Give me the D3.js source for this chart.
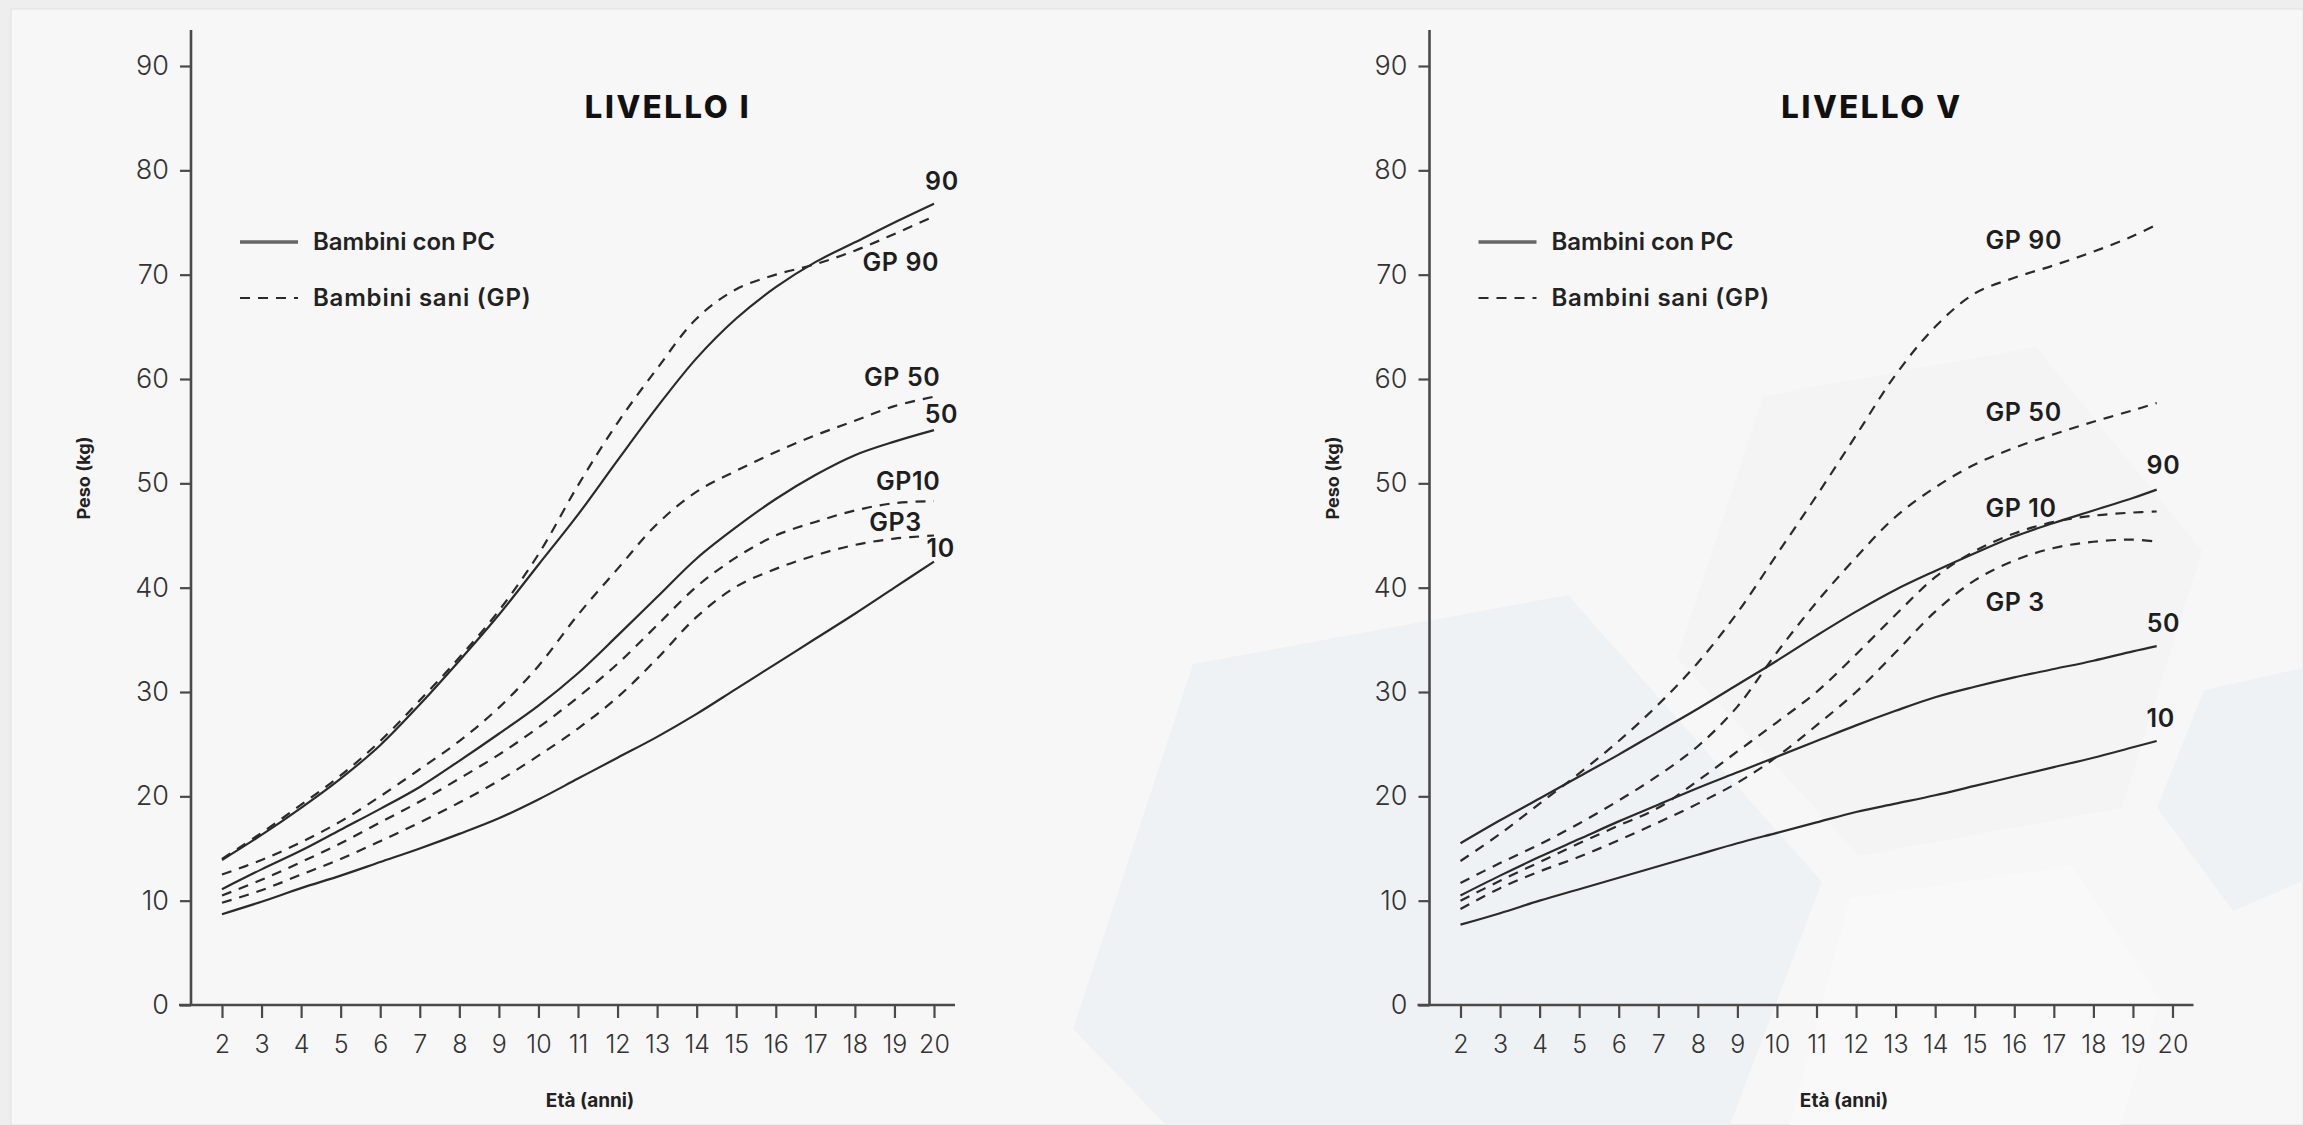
<!DOCTYPE html>
<html>
<head>
<meta charset="utf-8">
<script src="https://cdn.jsdelivr.net/npm/d3@7"></script>
<style>
  body { margin: 0; background: #eeeeee; }
  svg { display: block; font-family: Inter, "Open Sans", sans-serif; }
</style>
</head>
<body>
<svg id="chart" width="2303" height="1125"></svg>
<script>
// ages (years)
const agesI = [2, 3, 4, 5, 6, 7, 8, 9, 10, 11, 12, 13, 14, 15, 16, 17, 18, 19, 20];
const agesV = [2, 3, 4, 5, 6, 7, 8, 9, 10, 11, 12, 13, 14, 15, 16, 17, 18, 19, 19.6];
const xTicks = [2, 3, 4, 5, 6, 7, 8, 9, 10, 11, 12, 13, 14, 15, 16, 17, 18, 19, 20];
const yTicks = [0, 10, 20, 30, 40, 50, 60, 70, 80, 90];

// LIVELLO I, peso (kg)
const pc90I = [13.9, 16.3, 18.9, 21.7, 24.9, 28.8, 33.0, 37.4, 42.2, 47.0, 52.2, 57.3, 62.0, 65.8, 68.8, 71.2, 73.1, 75.0, 76.8];
const pc50I = [11.1, 13.0, 14.8, 16.8, 18.8, 20.9, 23.4, 26.0, 28.7, 31.8, 35.4, 39.1, 42.8, 45.8, 48.5, 50.8, 52.7, 54.0, 55.1];
const pc10I = [8.7, 9.9, 11.2, 12.4, 13.7, 15.0, 16.4, 17.9, 19.7, 21.7, 23.7, 25.7, 27.9, 30.3, 32.7, 35.1, 37.5, 40.0, 42.5];
const gp90I = [14.0, 16.5, 19.2, 22.0, 25.3, 29.2, 33.3, 37.8, 43.2, 49.8, 55.8, 61.0, 65.8, 68.6, 70.0, 71.0, 72.3, 73.9, 75.6];
const gp50I = [12.5, 13.9, 15.6, 17.6, 20.0, 22.6, 25.3, 28.5, 32.5, 37.4, 41.8, 46.1, 49.2, 51.2, 53.0, 54.6, 56.0, 57.4, 58.3];
const gp10I = [10.5, 12.0, 13.7, 15.5, 17.5, 19.5, 21.7, 24.0, 26.6, 29.5, 32.7, 36.4, 40.1, 42.9, 45.0, 46.3, 47.4, 48.1, 48.3];
const gp3I  = [9.8, 11.0, 12.5, 14.0, 15.7, 17.5, 19.4, 21.5, 23.9, 26.5, 29.5, 33.2, 37.2, 40.1, 41.8, 43.1, 44.1, 44.7, 45.0];

// LIVELLO V, peso (kg)
const pc90V = [15.5, 17.7, 19.8, 21.9, 24.0, 26.2, 28.4, 30.7, 33.0, 35.4, 37.7, 39.8, 41.6, 43.3, 44.9, 46.2, 47.4, 48.6, 49.4];
const pc50V = [10.5, 12.4, 14.2, 15.9, 17.6, 19.2, 20.8, 22.3, 23.8, 25.3, 26.8, 28.2, 29.5, 30.5, 31.4, 32.2, 33.0, 33.9, 34.4];
const pc10V = [7.7, 8.8, 10.0, 11.1, 12.2, 13.3, 14.4, 15.5, 16.5, 17.5, 18.5, 19.3, 20.1, 21.0, 21.9, 22.8, 23.7, 24.7, 25.3];
const gp90V = [13.8, 16.4, 19.3, 22.2, 25.3, 28.8, 32.8, 37.6, 43.2, 48.8, 54.6, 60.4, 65.0, 68.2, 69.7, 70.9, 72.2, 73.7, 74.8];
const gp50V = [11.7, 13.6, 15.4, 17.4, 19.6, 22.0, 24.8, 28.6, 33.8, 38.6, 42.9, 46.8, 49.6, 51.8, 53.4, 54.7, 55.9, 57.0, 57.7];
const gp10V = [10.0, 11.9, 13.7, 15.5, 17.2, 18.9, 21.5, 24.3, 27.1, 30.0, 33.6, 37.4, 41.0, 43.5, 45.2, 46.3, 46.9, 47.2, 47.3];
const gp3V  = [9.2, 11.2, 12.8, 14.2, 15.8, 17.5, 19.3, 21.3, 23.8, 26.8, 30.0, 33.8, 37.7, 40.7, 42.6, 43.8, 44.4, 44.6, 44.4];

const legendLabels = ["Bambini con PC", "Bambini sani (GP)"];

// where each curve label sits (age, kg)
const labelsI = [
  { text: "90",    age: 20.2,  kg: 79.0, anchor: "middle" },
  { text: "GP 90", age: 20.13, kg: 71.2, anchor: "end" },
  { text: "GP 50", age: 20.16, kg: 60.2, anchor: "end" },
  { text: "50",    age: 20.19, kg: 56.6, anchor: "middle" },
  { text: "GP10",  age: 20.16, kg: 50.2, anchor: "end" },
  { text: "GP3",   age: 19.69, kg: 46.3, anchor: "end" },
  { text: "10",    age: 20.17, kg: 43.8, anchor: "middle" }
];
const labelsV = [
  { text: "GP 90", age: 15.27, kg: 73.3, anchor: "start" },
  { text: "GP 50", age: 15.27, kg: 56.8, anchor: "start" },
  { text: "90",    age: 19.77, kg: 51.8, anchor: "middle" },
  { text: "GP 10", age: 15.27, kg: 47.6, anchor: "start" },
  { text: "GP 3",  age: 15.27, kg: 38.6, anchor: "start" },
  { text: "50",    age: 19.77, kg: 36.6, anchor: "middle" },
  { text: "10",    age: 19.7,  kg: 27.5, anchor: "middle" }
];

const svg = d3.select("#chart");
const ink = "#2a2a2a";

// card + faint hexagon watermark
svg.append("rect").attr("x", 11).attr("y", 9).attr("width", 2292).attr("height", 1116)
  .attr("fill", "#f7f7f7").attr("stroke", "#e2e2e2");
const hexes = [
  { pts: [[1763, 396], [2036, 347], [2202, 551], [2122, 808], [1859, 856], [1677, 658]], fill: "#f4f4f4" },
  { pts: [[1193, 664], [1568, 595], [1822, 882], [1730, 1125], [1166, 1125], [1073, 1029]], fill: "#eff2f4" },
  { pts: [[2204, 690], [2303, 668], [2303, 881], [2233, 911], [2157, 808]], fill: "#eff2f4" },
  { pts: [[1850, 898], [2072, 866], [2160, 1000], [2120, 1125], [1790, 1125]], fill: "#f9f9f9" }
];
svg.append("g").selectAll("polygon").data(hexes).join("polygon")
  .attr("points", d => d.pts.map(p => p.join(",")).join(" "))
  .attr("fill", d => d.fill);

function drawPanel(dx, cfg) {
  const g = svg.append("g").attr("transform", `translate(${dx},0)`);
  const x = d3.scaleLinear().domain([2, 20]).range([222, 934]);
  const y = d3.scaleLinear().domain([0, 90]).range([1005, 66]);

  // axes
  const yAxis = d3.axisLeft(y).tickValues(yTicks).tickSize(11).tickPadding(11).tickSizeOuter(0);
  const ya = g.append("g").attr("transform", "translate(191,0)").call(yAxis);
  const xAxis = d3.axisBottom(x).tickValues(xTicks).tickSize(13).tickPadding(17).tickSizeOuter(0);
  const xa = g.append("g").attr("transform", "translate(0,1005)").call(xAxis);
  [ya, xa].forEach(a => {
    a.select(".domain").remove();
    a.selectAll(".tick line").attr("stroke", "#4a4a4a").attr("stroke-width", 2.2);
    a.selectAll(".tick text").attr("fill", "#333").attr("font-weight", 300)
      .attr("font-family", "Inter, 'Open Sans', sans-serif");
  });
  ya.selectAll(".tick text").attr("font-size", 27);
  xa.selectAll(".tick text").attr("font-size", 25);
  g.append("line").attr("x1", 191).attr("x2", 191).attr("y1", 30).attr("y2", 1006)
    .attr("stroke", "#4a4a4a").attr("stroke-width", 2.6);
  g.append("line").attr("x1", 179).attr("x2", 955).attr("y1", 1005).attr("y2", 1005)
    .attr("stroke", "#4a4a4a").attr("stroke-width", 2.6);

  // axis titles
  g.append("text").attr("transform", `translate(${cfg.yLabelX},478) rotate(-90)`)
    .attr("text-anchor", "middle").attr("dominant-baseline", "central")
    .attr("font-size", 18).attr("font-weight", 700).attr("fill", "#222").text("Peso (kg)");
  g.append("text").attr("x", cfg.xLabelX).attr("y", 1100)
    .attr("text-anchor", "middle").attr("dominant-baseline", "central")
    .attr("font-size", 19).attr("font-weight", 700).attr("fill", "#222").text("Età (anni)");

  // title
  g.append("text").attr("x", cfg.titleX).attr("y", 118).attr("text-anchor", "middle")
    .attr("font-size", 31).attr("font-weight", 800).attr("letter-spacing", 2.6)
    .attr("fill", "#111").text(cfg.title);

  // legend
  const lg = g.append("g");
  lg.append("line").attr("x1", 240).attr("x2", 298).attr("y1", 242).attr("y2", 242)
    .attr("stroke", "#666").attr("stroke-width", 3.5);
  lg.append("line").attr("x1", 240).attr("x2", 298).attr("y1", 298).attr("y2", 298)
    .attr("stroke", ink).attr("stroke-width", 1.8).attr("stroke-dasharray", "10,8");
  lg.selectAll("text").data(legendLabels).join("text")
    .attr("x", 313).attr("y", (d, i) => 241 + i * 56)
    .attr("dominant-baseline", "central").attr("font-size", 24).attr("font-weight", 600)
    .attr("letter-spacing", (d, i) => i ? 0.8 : 0)
    .attr("fill", "#222").text(d => d);

  // curves
  const line = d3.line()
    .x((d, i) => x(cfg.ages[i]))
    .y(d => y(d))
    .curve(d3.curveCatmullRom.alpha(0.5));
  g.append("g").selectAll("path").data(cfg.series).join("path")
    .attr("d", d => line(d.values))
    .attr("fill", "none").attr("stroke", ink).attr("stroke-width", 2.2)
    .attr("stroke-dasharray", d => d.dashed ? "10,8" : null);

  // curve labels
  g.append("g").selectAll("text").data(cfg.labels).join("text")
    .attr("x", d => x(d.age)).attr("y", d => y(d.kg))
    .attr("text-anchor", d => d.anchor).attr("dominant-baseline", "central")
    .attr("font-size", 25).attr("font-weight", 600).attr("letter-spacing", 0.6)
    .attr("fill", "#1e1e1e").text(d => d.text);
}

drawPanel(0, {
  title: "LIVELLO I", titleX: 668, yLabelX: 83, xLabelX: 590, ages: agesI, labels: labelsI,
  series: [
    { values: pc90I, dashed: false }, { values: pc50I, dashed: false }, { values: pc10I, dashed: false },
    { values: gp90I, dashed: true }, { values: gp50I, dashed: true }, { values: gp10I, dashed: true },
    { values: gp3I, dashed: true }
  ]
});
drawPanel(1238.5, {
  title: "LIVELLO V", titleX: 633.5, yLabelX: 93.5, xLabelX: 605.5, ages: agesV, labels: labelsV,
  series: [
    { values: pc90V, dashed: false }, { values: pc50V, dashed: false }, { values: pc10V, dashed: false },
    { values: gp90V, dashed: true }, { values: gp50V, dashed: true }, { values: gp10V, dashed: true },
    { values: gp3V, dashed: true }
  ]
});
</script>
</body>
</html>
